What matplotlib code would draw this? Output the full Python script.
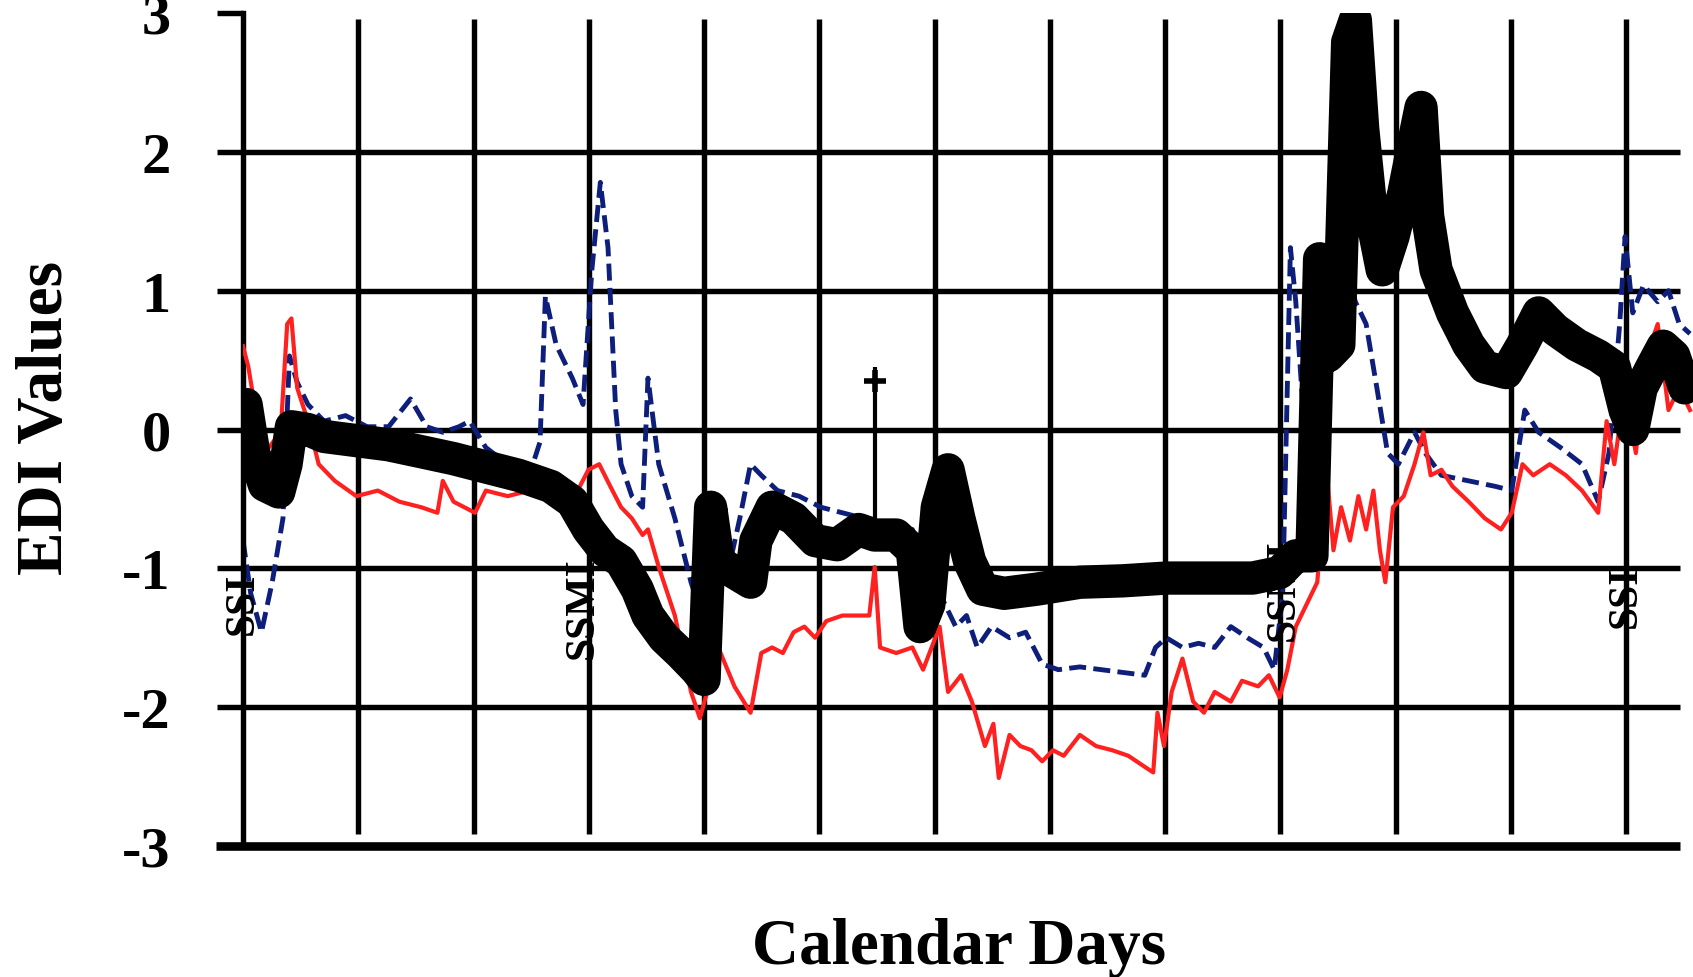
import matplotlib
matplotlib.use("Agg")
import matplotlib.pyplot as plt

plt.rcParams['font.family'] = ['Liberation Serif', 'DejaVu Serif']
plt.rcParams['axes.unicode_minus'] = False

# calendar days (grid line every 30 days) and EDI values
black_days = [0.0, 0.8, 2.8, 5.6, 9.3, 11.2, 12.6, 16.9, 21.1, 29.5, 37.9, 46.4, 54.8, 63.2,
              71.7, 80.1, 85.7, 89.9, 94.1, 98.4, 102.6, 105.4, 109.6, 113.8, 118.0, 120.0,
              121.7, 123.7, 127.9, 132.1, 133.5, 137.7, 143.3, 148.9, 154.6, 160.2, 164.4,
              170.0, 174.2, 176.2, 178.5, 180.7, 183.5, 186.3, 189.1, 192.5, 198.1, 206.6,
              217.8, 229.0, 240.3, 251.5, 262.8, 269.8, 274.0, 278.2, 280.2, 282.4, 285.2,
              287.5, 289.5, 291.4, 293.7, 296.5, 299.3, 302.1, 304.9, 306.6, 308.3, 310.5,
              314.8, 319.0, 323.2, 328.8, 333.0, 337.2, 341.5, 347.1, 352.7, 356.9, 359.7,
              361.7, 363.9, 366.7, 369.6, 372.4, 375.2, 376.6]
black_edi = [0.00, 0.18, -0.17, -0.40, -0.45, -0.25, 0.02, 0.00, -0.05, -0.08, -0.11, -0.16,
             -0.21, -0.27, -0.33, -0.41, -0.52, -0.72, -0.87, -0.95, -1.15, -1.34, -1.50, -1.61,
             -1.73, -1.80, -0.56, -0.95, -1.03, -1.10, -0.80, -0.56, -0.64, -0.80, -0.83, -0.72,
             -0.76, -0.76, -0.87, -1.42, -1.26, -0.56, -0.29, -0.64, -0.95, -1.15, -1.18, -1.15,
             -1.10, -1.09, -1.07, -1.07, -1.07, -1.03, -0.91, -0.91, 1.23, 0.53, 0.61, 2.79,
             2.95, 2.17, 1.54, 1.15, 1.39, 1.70, 2.09, 2.32, 1.54, 1.15, 0.84, 0.61, 0.45, 0.41,
             0.61, 0.84, 0.72, 0.61, 0.53, 0.45, 0.14, 0.00, 0.30, 0.45, 0.60, 0.53, 0.30, 0.37]

red_days = [0.0, 1.4, 3.7, 5.6, 9.8, 11.5, 12.6, 14.1, 16.9, 19.7, 23.9, 29.5, 35.1, 40.7,
            46.4, 50.6, 52.0, 54.8, 60.4, 63.2, 68.9, 74.5, 78.7, 82.9, 87.1, 89.9, 92.7, 95.6,
            98.4, 101.2, 104.0, 105.4, 108.2, 112.4, 116.6, 118.9, 120.8, 123.7, 127.9, 132.1,
            134.9, 137.7, 140.5, 143.3, 146.1, 148.9, 151.8, 156.0, 160.2, 163.0, 164.4, 165.8,
            170.0, 174.2, 177.0, 181.3, 183.5, 186.9, 189.7, 193.1, 195.3, 196.7, 199.5, 202.3,
            205.2, 208.0, 210.8, 213.6, 217.8, 222.0, 226.2, 230.4, 234.7, 236.9, 238.0, 239.7,
            241.7, 244.5, 247.3, 250.1, 252.9, 257.1, 260.0, 264.2, 267.0, 269.8, 271.8, 274.0,
            276.8, 279.6, 281.9, 283.8, 285.8, 288.1, 290.3, 292.3, 294.2, 295.9, 297.3, 299.3,
            302.1, 304.9, 307.2, 309.1, 311.9, 314.8, 319.0, 323.2, 327.4, 330.2, 333.0, 335.8,
            340.1, 344.3, 348.5, 352.7, 354.9, 356.9, 359.7, 362.5, 365.3, 368.2, 371.0, 373.8,
            376.6]
red_edi = [0.60, 0.45, 0.06, -0.17, -0.02, 0.76, 0.80, 0.30, 0.06, -0.25, -0.37, -0.48, -0.44,
           -0.52, -0.56, -0.60, -0.37, -0.52, -0.60, -0.44, -0.48, -0.44, -0.44, -0.56, -0.44,
           -0.29, -0.25, -0.41, -0.56, -0.64, -0.76, -0.72, -0.99, -1.34, -1.89, -2.08, -1.89,
           -1.57, -1.85, -2.04, -1.61, -1.57, -1.61, -1.46, -1.42, -1.50, -1.38, -1.34, -1.34,
           -1.34, -0.99, -1.57, -1.61, -1.57, -1.73, -1.42, -1.89, -1.77, -1.96, -2.28, -2.12,
           -2.51, -2.20, -2.28, -2.31, -2.39, -2.31, -2.35, -2.20, -2.28, -2.31, -2.35, -2.43,
           -2.47, -2.04, -2.28, -1.89, -1.65, -1.96, -2.04, -1.89, -1.96, -1.81, -1.85, -1.77,
           -1.93, -1.73, -1.42, -1.26, -1.10, -0.25, -0.87, -0.56, -0.80, -0.48, -0.72, -0.44,
           -0.87, -1.10, -0.56, -0.48, -0.25, -0.02, -0.33, -0.29, -0.41, -0.52, -0.64, -0.72,
           -0.60, -0.25, -0.33, -0.25, -0.33, -0.44, -0.60, 0.06, -0.25, 0.30, -0.17, 0.53,
           0.76, 0.14, 0.30, 0.14]

blue_days = [0.0, 2.0, 4.8, 7.6, 10.4, 12.1, 14.1, 16.9, 21.1, 26.7, 32.3, 37.9, 43.6, 47.8,
             52.0, 56.2, 59.0, 63.2, 68.9, 74.5, 77.3, 78.7, 81.5, 85.7, 88.5, 90.8, 93.0, 95.0,
             97.0, 98.4, 101.2, 104.0, 105.4, 108.2, 112.4, 116.6, 119.4, 121.4, 123.1, 125.6,
             129.3, 132.1, 134.9, 139.1, 144.7, 150.4, 156.0, 161.6, 167.2, 171.4, 174.2, 177.0,
             181.3, 185.5, 188.3, 191.1, 194.8, 199.5, 203.7, 208.0, 212.2, 217.8, 223.4, 229.0,
             234.7, 237.5, 240.3, 244.5, 248.7, 252.9, 257.1, 261.4, 265.6, 268.4, 270.6, 272.6,
             274.0, 276.0, 277.7, 279.6, 281.9, 283.8, 286.7, 289.5, 292.3, 295.1, 297.9, 300.7,
             304.9, 307.7, 311.9, 319.0, 326.0, 330.2, 333.6, 337.2, 342.9, 348.5, 352.7, 355.5,
             358.3, 359.7, 361.7, 364.5, 368.2, 371.0, 373.8, 376.6]
blue_edi = [-0.80, -1.18, -1.46, -1.10, -0.64, 0.53, 0.34, 0.18, 0.06, 0.10, 0.02, 0.02, 0.22,
            0.02, -0.02, 0.02, 0.06, -0.13, -0.25, -0.33, -0.09, 0.96, 0.61, 0.37, 0.18, 1.15,
            1.78, 1.31, 0.14, -0.25, -0.48, -0.56, 0.37, -0.25, -0.64, -1.10, -1.34, -1.50,
            -1.03, -1.10, -0.64, -0.25, -0.33, -0.44, -0.48, -0.56, -0.60, -0.64, -0.72, -0.76,
            -0.72, -0.95, -1.18, -1.42, -1.34, -1.57, -1.42, -1.50, -1.46, -1.69, -1.73, -1.71,
            -1.73, -1.75, -1.77, -1.57, -1.50, -1.57, -1.54, -1.57, -1.42, -1.50, -1.57, -1.73,
            -1.18, 1.31, 0.92, 0.10, 0.53, -0.17, 0.14, 0.92, 1.23, 0.92, 0.76, 0.30, -0.17,
            -0.25, -0.02, -0.17, -0.33, -0.37, -0.41, -0.44, 0.14, -0.02, -0.13, -0.25, -0.52,
            -0.17, 0.76, 1.39, 0.84, 1.04, 0.92, 1.00, 0.76, 0.69]

# thin black spikes with cross heads
spike_days = [164.4, 306.6]
spike_low = [-0.76, 1.54]
spike_high = [0.45, 2.36]

# vertical labels sitting on some grid lines
mark_days = [0, 88.5, 271.0, 360]
mark_edi = [-1.25, -1.28, -1.15, -1.2]
mark_text = ['SSI', 'SSMI', 'SSMI', 'SSI']

grid_days = [30, 60, 90, 120, 150, 180, 210, 240, 270, 300, 330, 360]
edi_levels = [-2, -1, 0, 1, 2]
edi_ticks = [-3, -2, -1, 0, 1, 2, 3]

fig = plt.figure(figsize=(16.93, 9.78), dpi=100)
ax = fig.add_axes([243 / 1693, 1 - 847 / 978, 1452 / 1693, 833 / 978])
ax.set_xlim(0, 377.9)
ax.set_ylim(-3, 3)

# grid
ax.vlines(grid_days, -2.91, 2.96, color='black', linewidth=3.9, zorder=1)
ax.hlines(edi_levels, 0, 374, color='black', linewidth=3.9, zorder=1)
ax.plot([-7, 374], [-3, -3], color='black', linewidth=6.2, solid_capstyle='butt',
        clip_on=False, zorder=1)

# series
ax.plot(blue_days, blue_edi, color='#0d1f7a', linewidth=3.5, linestyle=(0, (3.5, 1.5)), zorder=2)
ax.plot(red_days, red_edi, color='#ff2020', linewidth=3, zorder=3)
ax.plot(black_days, black_edi, color='black', linewidth=24, solid_joinstyle='round', zorder=4)
ax.vlines(spike_days, spike_low, spike_high, color='black', linewidth=3, zorder=4)
ax.plot(spike_days, [h - 0.1 for h in spike_high], linestyle='none', marker='+',
        markersize=16, markeredgewidth=4, color='black', zorder=4)

for d, e, t in zip(mark_days, mark_edi, mark_text):
    ax.text(d, e, t, rotation=90, ha='center', va='center', fontsize=30,
            fontweight='bold', color='black', zorder=5)

# axes styling
for side in ['top', 'right', 'bottom']:
    ax.spines[side].set_visible(False)
ax.spines['left'].set_linewidth(3.9)
ax.set_xticks([])
ax.set_yticks(edi_ticks)
ax.tick_params(axis='y', length=19, width=3.9, pad=33, direction='out', labelsize=42)
for lbl in ax.get_yticklabels():
    lbl.set_fontweight('bold')

ax.set_ylabel('EDI Values', fontsize=47, fontweight='bold')
ax.yaxis.set_label_coords(-0.115, 0.515)
ax.set_xlabel('Calendar Days', fontsize=47, fontweight='bold')
ax.xaxis.set_label_coords(0.493, -0.085)

fig.savefig('out.png', dpi=100)
